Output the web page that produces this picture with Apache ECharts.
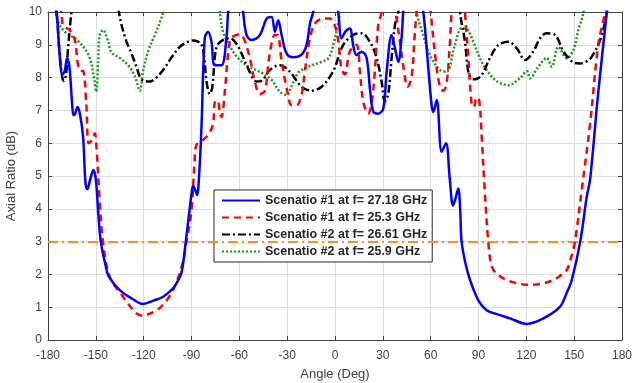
<!DOCTYPE html>
<html>
<head>
<meta charset="utf-8">
<script src="https://cdn.jsdelivr.net/npm/echarts@6/dist/echarts.min.js"></script>
<style>html,body{margin:0;padding:0;background:#fff}#c{width:632px;height:383px}</style>
</head>
<body>
<div id="c"></div>
<script>
var legendNames = ['Scenatio #1 at f= 27.18 GHz','Scenatio #1 at f= 25.3 GHz','Scenatio #2 at f= 26.61 GHz','Scenatio #2 at f= 25.9 GHz'];
var xTicks = [-180,-150,-120,-90,-60,-30,0,30,60,90,120,150,180];
var yTicks = [0,1,2,3,4,5,6,7,8,9,10];
var threshold = 3;

var blueAngle = [-180,-174.5,-172.7,-171,-169.5,-168,-166.5,-165,-164,-163,-161.5,-160,-158,-156.5,-155.3,-153.5,-151.5,-150,-148.5,-146.9,-144,-142,-135,-127,-120.4,-114,-107.8,-102,-99.4,-96.3,-93.6,-90,-89,-87.5,-86.5,-85,-83.7,-81.7,-79.6,-77.5,-75.4,-71.2,-68.1,-67,-64,-60,-57.6,-55.5,-52.3,-47.1,-42.9,-39.8,-37.7,-35.6,-33.5,-30.4,-26.2,-21,-17.8,-15.7,-13.7,-11,-5,0,2,4.1,6.5,9.3,11.4,13.5,16.7,19.8,21.9,24,27.1,30.3,32.4,35.5,37.6,39.7,41.8,42.8,45,52,55.4,58.5,60.6,61.6,63.8,66.9,69.6,72,74,75.5,77.3,78.5,79.4,82,84.7,90,95.1,102,109.8,120.3,130.7,141.2,145,148.5,153.8,157.9,160,165,170.5,175];
var blueAR = [13,10,8.7,8.1,8.2,8.6,8.3,7.3,6.85,6.9,7.1,6.9,6.2,4.8,4.6,4.9,5.18,4.9,3.9,3.0,2.3,1.95,1.52,1.25,1.1,1.2,1.32,1.55,1.73,2.05,3.0,4.45,4.7,4.55,4.42,5.2,6.55,9.2,9.4,9.1,8.38,8.38,9.2,10,11,11,10,9.3,9.15,9.3,9.8,9.85,9.4,9.75,9.3,8.74,8.62,8.7,9.0,9.65,10,10.8,11,10.6,10,9.2,9.4,9.5,8.99,8.69,8.79,8.6,7.67,6.96,6.9,7.06,8.18,9.3,8.89,8.48,9.25,10,11,11,10,8.3,7.16,6.95,7.32,5.74,6.0,4.9,4.1,4.3,4.62,4.0,3.0,2.3,1.83,1.2,0.91,0.78,0.66,0.49,0.66,1.02,1.4,1.83,3.0,4.37,4.9,7.5,10,12];

var redAngle = [-180,-171.6,-170.6,-168,-166.4,-163.2,-161.2,-159.5,-158,-156,-154.5,-152.5,-150.7,-149.5,-147.6,-145.5,-141.3,-132.9,-124.5,-120,-118.2,-110,-101.6,-95.6,-93.1,-90,-88,-86.9,-82.7,-79,-76.4,-75.4,-73.5,-72.2,-71.2,-69.1,-67,-65,-59.7,-54.5,-50.3,-47.1,-44,-40.9,-37.7,-36,-33.5,-30.4,-27.2,-24.1,-21,-18.9,-15.7,-12.6,-7.3,-3.3,1,4.1,6.2,9.3,13.5,15.6,17.7,20.8,22.9,25,27.1,29.2,31,35,38,41,43,45.5,48,50,51.2,54,58,60,63.5,66,68,70,72,73.2,76,80,81.5,83.6,85.7,87,88.9,90.5,92,94,96.1,98.3,102,107.7,115,122.3,130,136.9,141,145.3,148,150.5,154.8,160,165.2,169.4,175];
var redAR = [12,10,9.6,9.5,9.45,9.15,8.4,8.2,8.2,7.2,6.0,6.1,6.3,5.8,4.27,3.0,1.93,1.32,0.81,0.74,0.76,0.97,1.52,2.34,3.0,3.96,5.5,5.95,6.1,6.3,6.6,7.25,7.3,6.9,6.8,7.57,8.74,9.2,9.32,8.8,7.88,7.5,7.6,8.74,9.3,9.3,8.5,7.7,7.16,7.16,7.47,8.2,9.2,9.65,9.8,9.8,9.4,8.28,8.1,8.8,9.0,8.2,7.27,6.9,7.2,8.2,9.6,10,11,11,10,9.0,8.3,7.72,8.0,9.3,10,11,11,10,8.4,7.7,7.6,7.83,9.0,10,11,11,10,8.6,7.2,7.1,7.4,7.3,6.2,4.47,3.0,2.24,2.0,1.83,1.72,1.68,1.72,1.83,1.95,2.13,2.5,3.0,4.6,6.6,9.04,10,12];

var blackAngle = [-180,-174.7,-172.5,-171,-170,-168.7,-167.4,-165.3,-160,-140,-135.5,-131.5,-127.7,-124.5,-122.4,-120,-116,-114.1,-110,-106.8,-102,-97.3,-92,-89,-86,-83.7,-82,-80.6,-78.5,-77,-74.3,-70.2,-66,-60.8,-54.5,-49.2,-46.1,-40.9,-34.6,-28.3,-21,-14.7,-8.4,-1.1,5.1,11.4,16.7,21.9,26.1,29.2,31.3,33.4,35.5,37.6,39.7,42,75,78.4,81.5,83.6,85.5,87.8,92,97.2,102.4,108.7,113.9,119.2,124.4,128.6,132.8,138,143.2,146.4,150,153.8,158,161.1,166.3,170.5,175];
var blackAR = [12,10,8.6,8.0,7.9,8.1,8.9,10,12,12,10,9.2,8.74,8.33,8.03,7.9,7.88,7.92,8.1,8.3,8.65,8.94,9.1,9.13,9.1,9.0,8.6,7.88,7.5,7.7,8.94,9.15,9.2,8.95,8.28,7.88,7.9,8.23,8.38,8.18,7.72,7.6,7.72,8.2,8.99,9.3,9.35,9.09,8.6,7.88,7.27,7.5,8.6,9.6,10,12,12,10,9.1,8.18,7.98,7.95,8.08,8.6,8.99,9.09,8.9,8.54,8.8,9.2,9.35,9.3,8.8,8.6,8.45,8.43,8.5,8.64,9.15,10,12];

var greenAngle = [-180,-175,-173.7,-169.5,-163.2,-158,-153.8,-151,-149.8,-148.5,-147.6,-145.5,-142.3,-140.2,-135,-129.8,-125.6,-122.4,-120.4,-117.2,-113,-107.8,-100,-75,-72.2,-70.2,-67,-61.8,-55,-46.1,-39.8,-34.6,-30.4,-27.2,-23,-16.8,-8.4,-4,-1.1,2,3.1,6,48,51.2,55.4,58.5,61.6,66,70,75.2,79.4,82.6,86.7,92,98.3,103,108.7,116,120.3,122.3,127.5,132.8,135.9,140.1,145.3,149.5,152.6,155.8,160];
var greenAR = [12,10,9.7,9.4,9.2,8.95,8.6,7.95,7.57,8.5,9.3,9.45,9.1,8.77,8.6,8.38,8.05,7.6,8.2,8.8,9.3,10,12,12,10,9.4,9.05,8.65,8.36,8.15,7.93,7.57,7.47,7.75,8.15,8.33,8.48,8.6,9.0,9.65,10,12,12,10,9.3,8.8,8.5,8.23,8.18,9.0,9.5,9.48,9.1,8.48,8.03,7.85,7.77,7.98,8.2,7.98,8.33,8.6,8.33,8.94,8.59,8.84,9.45,10,12];

function pairs(a, v) { return a.map(function (x, i) { return [x, v[i]]; }); }

var chart = echarts.init(document.getElementById('c'), null, {renderer: 'canvas'});
var font = 'Liberation Sans, Arial, sans-serif';
function series(name, a, v, color, type, extra) {
  var s = {
    name: name, type: 'line', data: pairs(a, v), smooth: 0.35, symbol: 'none', clip: true,
    lineStyle: {color: color, width: 2.5, type: type}, itemStyle: {color: color}, z: 3
  };
  if (extra) for (var k in extra) s[k] = extra[k];
  return s;
}
var option = {
  animation: false,
  backgroundColor: '#ffffff',
  grid: {left: 48, right: 10, top: 12, bottom: 43, containLabel: false, outerBoundsMode: 'none'},
  legend: {
    show: true,
    left: 214, top: 190, orient: 'vertical', itemGap: 4, itemWidth: 38, itemHeight: 12,
    padding: [4, 5, 4, 7], borderColor: '#262626', borderWidth: 1, backgroundColor: '#ffffff',
    itemStyle: {opacity: 0},
    textStyle: {fontFamily: font, fontSize: 12.5, fontWeight: 'bold', color: '#262626'},
    data: legendNames.slice()
  },
  xAxis: [{
    type: 'value', min: -180, max: 180, interval: 30,
    name: 'Angle (Deg)', nameLocation: 'middle', nameGap: 28,
    nameTextStyle: {fontFamily: font, fontSize: 13, color: '#404040'},
    axisLine: {show: true, onZero: false, lineStyle: {color: '#404040', width: 1}},
    axisTick: {show: true, inside: true, length: 4, lineStyle: {color: '#404040'}},
    axisLabel: {fontFamily: font, fontSize: 12, color: '#404040', margin: 10},
    splitLine: {show: true, lineStyle: {color: '#dedede', width: 1}}
  }, {
    type: 'value', min: -180, max: 180, interval: 30, position: 'top',
    axisLine: {show: true, onZero: false, lineStyle: {color: '#404040', width: 1}},
    axisTick: {show: true, inside: true, length: 4, lineStyle: {color: '#404040'}},
    axisLabel: {show: false}, splitLine: {show: false}
  }],
  yAxis: [{
    type: 'value', min: 0, max: 10, interval: 1,
    name: 'Axial Ratio (dB)', nameLocation: 'middle', nameGap: 8,
    nameTextStyle: {fontFamily: font, fontSize: 13, color: '#404040'},
    axisLine: {show: true, onZero: false, lineStyle: {color: '#404040', width: 1}},
    axisTick: {show: true, inside: true, length: 4, lineStyle: {color: '#404040'}},
    axisLabel: {fontFamily: font, fontSize: 12, color: '#404040', margin: 6},
    splitLine: {show: true, lineStyle: {color: '#dedede', width: 1}}
  }, {
    type: 'value', min: 0, max: 10, interval: 1, position: 'right',
    axisLine: {show: true, onZero: false, lineStyle: {color: '#404040', width: 1}},
    axisTick: {show: true, inside: true, length: 4, lineStyle: {color: '#404040'}},
    axisLabel: {show: false}, splitLine: {show: false}
  }],
  series: [
    series(legendNames[0], blueAngle, blueAR, '#0000ff', 'solid', {z: 6}),
    series(legendNames[1], redAngle, redAR, '#ff0000', [7, 5], {z: 5}),
    series(legendNames[2], blackAngle, blackAR, '#000000', [8, 3, 2, 3], {z: 4}),
    series(legendNames[3], greenAngle, greenAR, '#1a9a1a', [2, 2], {z: 3}),
    {
      name: 'threshold', type: 'line', data: [], silent: true,
      markLine: {
        silent: true, symbol: 'none', label: {show: false},
        lineStyle: {color: '#ff8c26', width: 2, type: [10, 4, 2, 4]},
        data: [{yAxis: threshold}]
      }
    }
  ]
};
chart.setOption(option);
</script>
</body>
</html>
